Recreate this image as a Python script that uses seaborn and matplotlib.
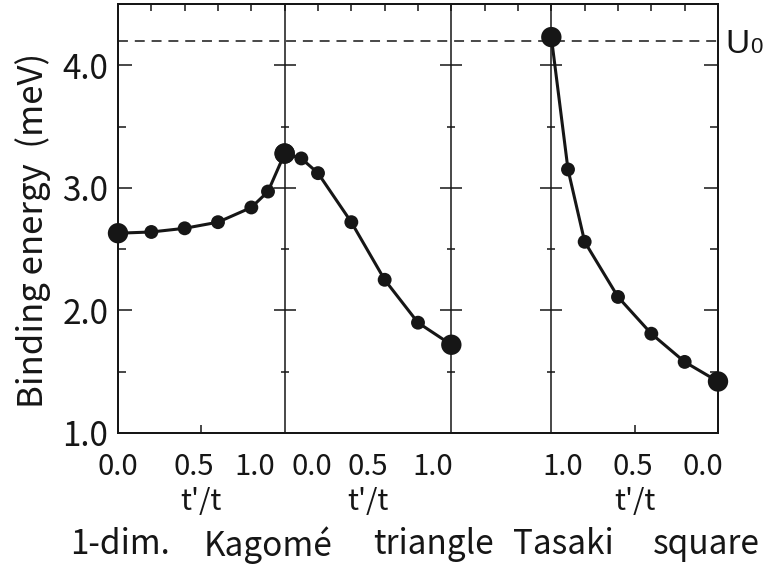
import numpy as np
import pandas as pd
import matplotlib
matplotlib.use("Agg")
import matplotlib.pyplot as plt
from matplotlib import font_manager
import seaborn as sns

# ---------------- data ----------------
panels = ["1-dim-Kagome", "Kagome-triangle", "Tasaki-square"]
t_1dim = [0.0, 0.2, 0.4, 0.6, 0.8, 0.9, 1.0]
e_1dim = [2.63, 2.64, 2.67, 2.72, 2.84, 2.97, 3.28]
t_kag = [0.0, 0.1, 0.2, 0.4, 0.6, 0.8, 1.0]
e_kag = [3.28, 3.24, 3.12, 2.72, 2.25, 1.90, 1.72]
t_tas = [1.0, 0.9, 0.8, 0.6, 0.4, 0.2, 0.0]
e_tas = [4.23, 3.15, 2.56, 2.11, 1.81, 1.58, 1.42]
U0 = 4.2
tick_text = ["0.0", "0.5", "1.0"]
lattice_names = ["1-dim.", "Kagomé", "triangle", "Tasaki", "square"]
ylabel_text = "Binding energy  (meV)"
xlabel_text = "t'/t"
y_major = [1.0, 2.0, 3.0, 4.0]
y_minor = [1.5, 2.5, 3.5]

# ---------------- layout helpers ----------------
offsets = {"1-dim-Kagome": (0.0, 1), "Kagome-triangle": (1.0, 1), "Tasaki-square": (3.6, -1)}
dividers = [1.0, 2.0, 2.6]

rows = []
for name, ts, es in zip(panels, [t_1dim, t_kag, t_tas], [e_1dim, e_kag, e_tas]):
    off, d = offsets[name]
    n = len(ts)
    for i, (t, e) in enumerate(zip(ts, es)):
        rows.append({"panel": name, "t": t, "energy": e,
                     "x": off + d * t, "end": i in (0, n - 1)})
df = pd.DataFrame(rows)

ink = "#161616"
sns.set_style("ticks")
fams = {f.name for f in font_manager.fontManager.ttflist}
plt.rcParams["font.family"] = ["Noto Sans CJK JP", "DejaVu Sans"]
u_font = "Liberation Sans Narrow" if "Liberation Sans Narrow" in fams else "Liberation Sans"

fig = plt.figure(figsize=(7.65, 5.69), dpi=100)
ax = fig.add_axes([118 / 765, 136 / 569, 600 / 765, 429 / 569])

sns.lineplot(data=df, x="x", y="energy", units="panel", estimator=None, sort=False,
             color=ink, lw=2.2, ax=ax, legend=False)
sns.scatterplot(data=df[~df["end"]], x="x", y="energy", s=100, color=ink,
                edgecolor="none", ax=ax, legend=False, zorder=4)
sns.scatterplot(data=df[df["end"]], x="x", y="energy", s=215, color=ink,
                edgecolor="none", ax=ax, legend=False, zorder=5)
for coll in ax.collections:
    coll.set_clip_on(False)

ax.axhline(U0, color=ink, lw=1.1, ls=(0, (6.5, 4.5)), zorder=1)
for xv in dividers:
    ax.axvline(xv, color=ink, lw=1.1, zorder=2)
    ax.plot([xv] * len(y_major[1:]), y_major[1:], ls="none", marker="_",
            ms=16.5, mew=1.1, color=ink)
    ax.plot([xv] * len(y_minor), y_minor, ls="none", marker="_",
            ms=6, mew=1.1, color=ink)

ax.set_xlim(0, 3.6)
ax.set_ylim(1.0, 4.5)

# y axis
ax.set_yticks(y_major)
ax.set_yticklabels([f"{v:.1f}" for v in y_major])
ax.set_yticks(y_minor, minor=True)
ax.tick_params(axis="y", which="both", direction="in", left=True, right=True,
               width=1.1, color=ink, labelsize=24, pad=7, labelcolor=ink)
ax.tick_params(axis="y", which="major", length=10)
ax.tick_params(axis="y", which="minor", length=5.5)
ax.set_ylabel(ylabel_text, fontsize=25, color=ink)
ax.yaxis.set_label_coords(-0.112, 0.473)

# x axis: labels placed under each panel, marks as minor ticks
label_pos = [0.0, 0.456, 0.822, 1.164, 1.50, 1.89, 2.67, 3.09, 3.51]
ax.set_xticks(label_pos)
ax.set_xticklabels(tick_text + tick_text + tick_text[::-1])
ax.set_xticks([0.5, 1.5, 3.1], minor=True)
ax.tick_params(axis="x", which="major", length=0, labelsize=21, pad=14, labelcolor=ink)
ax.tick_params(axis="x", which="minor", direction="in", length=5.5, width=1.1, color=ink)
ax.set_xlabel("")

top = ax.twiny()
top.set_xlim(ax.get_xlim())
top.set_xticks(np.arange(0.2, 3.5, 0.2))
top.tick_params(axis="x", direction="in", length=5, width=1.1, color=ink, labeltop=False)

for a in (ax, top):
    for s in a.spines.values():
        s.set_linewidth(1.4)
        s.set_color(ink)
        s.set_visible(True)

xt = ax.get_xaxis_transform()
for xc in [0.5, 1.5, 3.1]:
    ax.text(xc, -0.161, xlabel_text, transform=xt, ha="center", va="center",
            fontsize=21, color=ink)
for xc, name in zip([0.01, 0.9, 1.89, 2.67, 3.53], lattice_names):
    ax.text(xc, -0.261, name, transform=xt, ha="center", va="center",
            fontsize=24, color=ink)

ut = matplotlib.transforms.blended_transform_factory(ax.transAxes, ax.transData)
ax.text(1.013, 4.10, "U", transform=ut, ha="left", va="baseline",
        fontsize=24, family=u_font, color=ink, clip_on=False)
ax.annotate("0", xy=(1.013, 4.10), xycoords=ut, xytext=(17.4, 0),
            textcoords="offset points", ha="left", va="baseline",
            fontsize=16, family=u_font, color=ink, annotation_clip=False)

fig.savefig("out.png", dpi=100)
